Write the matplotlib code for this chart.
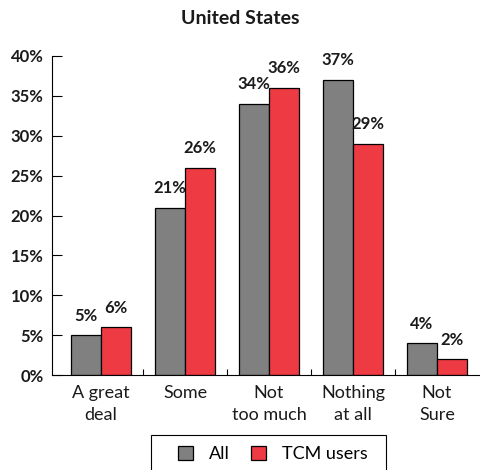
import matplotlib
matplotlib.use("Agg")
import matplotlib.pyplot as plt
from matplotlib.patches import Rectangle
import numpy as np

plt.rcParams['font.family'] = ['Lato', 'DejaVu Sans']

categories = ["A great\ndeal", "Some", "Not\ntoo much", "Nothing\nat all", "Not\nSure"]
all_vals = [5, 21, 34, 37, 4]
tcm_vals = [6, 26, 36, 29, 2]
yticks = [0, 5, 10, 15, 20, 25, 30, 35, 40]
series_names = ["All", "TCM users"]
title = "United States"

gray = "#808080"
red = "#EE3A43"

W, H = 481, 470
fig = plt.figure(figsize=(W / 100, H / 100), dpi=100)
ax = fig.add_axes([52 / W, 1 - 375 / H, 1 - 52 / W, (375 - 56) / H])

x = np.arange(len(categories))
bw = 0.36
b1 = ax.bar(x - bw / 2, all_vals, bw, color=gray, edgecolor="black", linewidth=0.9, label=series_names[0])
b2 = ax.bar(x + bw / 2, tcm_vals, bw, color=red, edgecolor="black", linewidth=0.9, label=series_names[1])

for bars, vals in ((b1, all_vals), (b2, tcm_vals)):
    for b, v in zip(bars, vals):
        ax.annotate(f"{v}%", (b.get_x() + b.get_width() / 2, v), xytext=(0, 14),
                    textcoords="offset points", ha="center", va="center",
                    fontsize=12, fontweight="bold", color="#1a1a1a")

ax.set_xlim(-49 / 84, (481 - 101) / 84)
ax.set_ylim(0, 40)
ax.set_yticks(yticks)
ax.set_yticklabels([f"{t}%" for t in yticks], fontsize=12, fontweight="bold", color="#1a1a1a")
ax.tick_params(axis="y", direction="in", length=7.5, width=0.8, pad=6)

ax.set_xticks(x)
ax.set_xticklabels(categories, fontsize=13, color="#1a1a1a", linespacing=1.45)
ax.tick_params(axis="x", which="major", length=0, pad=7)
ax.set_xticks(x[:-1] + 0.5, minor=True)
ax.tick_params(axis="x", which="minor", direction="in", length=4.5, width=0.8)

for s in ("top", "right"):
    ax.spines[s].set_visible(False)
for s in ("left", "bottom"):
    ax.spines[s].set_linewidth(0.8)

fig.text(0.5, 1 - 18 / H, title, ha="center", va="center", fontsize=14, fontweight="bold", color="#1a1a1a")

# legend frame
fig.patches.append(Rectangle((151 / W, 1 - 475 / H), 235 / W, 40 / H, transform=fig.transFigure,
                             fill=False, edgecolor="black", linewidth=0.8))
leg = fig.legend(handles=[b1, b2], labels=series_names, loc="center",
                 bbox_to_anchor=(273 / W, 1 - 454 / H), ncol=2, frameon=False,
                 fontsize=13, handlelength=0.8, handleheight=0.8,
                 handletextpad=0.9, columnspacing=1.2)

fig.savefig("out.png", dpi=100)
